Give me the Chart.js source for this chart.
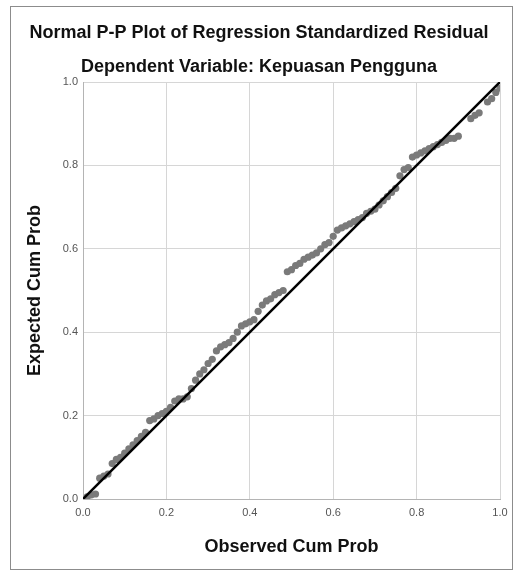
<!DOCTYPE html>
<html>
<head>
<meta charset="utf-8">
<script src="https://cdn.jsdelivr.net/npm/chart.js@4.4.1/dist/chart.umd.min.js"></script>
<style>
  html, body { margin: 0; padding: 0; background: #fff; }
  #wrap { position: relative; width: 518px; height: 571px; }
  #frame {
    position: absolute; left: 10px; top: 6px; width: 501px; height: 562px;
    border: 1px solid #8c8c8c; pointer-events: none;
  }
  canvas { position: absolute; left: 0; top: 0; }
</style>
</head>
<body>
<div id="wrap">
  <canvas id="chart" width="518" height="571"></canvas>
  <div id="frame"></div>
</div>
<script>
// observed vs expected cumulative probability of the standardized residuals
const observedCumProb = [
  0.01, 0.02, 0.03, 0.04, 0.05, 0.06, 0.07, 0.08, 0.09, 0.10,
  0.11, 0.12, 0.13, 0.14, 0.15, 0.16, 0.17, 0.18, 0.19, 0.20,
  0.21, 0.22, 0.23, 0.24, 0.25, 0.26, 0.27, 0.28, 0.29, 0.30,
  0.31, 0.32, 0.33, 0.34, 0.35, 0.36, 0.37, 0.38, 0.39, 0.40,
  0.41, 0.42, 0.43, 0.44, 0.45, 0.46, 0.47, 0.48, 0.49, 0.50,
  0.51, 0.52, 0.53, 0.54, 0.55, 0.56, 0.57, 0.58, 0.59, 0.60,
  0.61, 0.62, 0.63, 0.64, 0.65, 0.66, 0.67, 0.68, 0.69, 0.70,
  0.71, 0.72, 0.73, 0.74, 0.75, 0.76, 0.77, 0.78, 0.79, 0.80,
  0.81, 0.82, 0.83, 0.84, 0.85, 0.86, 0.87, 0.88, 0.89, 0.90,
  0.93, 0.94, 0.95, 0.97, 0.98, 0.99, 1.00
];
const expectedCumProb = [
  0.005, 0.010, 0.012, 0.050, 0.055, 0.060, 0.085, 0.095, 0.100, 0.110,
  0.120, 0.130, 0.140, 0.150, 0.160, 0.188, 0.192, 0.200, 0.205, 0.210,
  0.220, 0.235, 0.240, 0.240, 0.245, 0.265, 0.285, 0.300, 0.310, 0.325,
  0.335, 0.355, 0.365, 0.370, 0.375, 0.385, 0.400, 0.415, 0.420, 0.425,
  0.430, 0.450, 0.465, 0.475, 0.480, 0.490, 0.495, 0.500, 0.545, 0.550,
  0.560, 0.565, 0.575, 0.580, 0.585, 0.590, 0.600, 0.610, 0.615, 0.630,
  0.645, 0.650, 0.655, 0.660, 0.665, 0.670, 0.675, 0.685, 0.690, 0.695,
  0.705, 0.715, 0.725, 0.735, 0.745, 0.775, 0.790, 0.795, 0.820, 0.825,
  0.830, 0.835, 0.840, 0.845, 0.850, 0.855, 0.860, 0.865, 0.865, 0.870,
  0.912, 0.920, 0.926, 0.952, 0.960, 0.975, 0.985
];
// diagonal reference line endpoints
const refLineX = [0, 1];
const refLineY = [0, 1];
const tickValues = [0, 0.2, 0.4, 0.6, 0.8, 1.0];

const points = observedCumProb.map((x, i) => ({ x: x, y: expectedCumProb[i] }));
const refLine = refLineX.map((x, i) => ({ x: x, y: refLineY[i] }));

const fontFamily = '"Liberation Sans", Arial, sans-serif';
const tickFont = { family: fontFamily, size: 11 };
const titleFont = { family: fontFamily, size: 18, weight: 'bold' };

const axisOptions = (label, isX) => ({
  type: 'linear',
  min: 0,
  max: 1,
  afterBuildTicks: (scale) => {
    scale.ticks = tickValues.map(v => ({ value: v }));
  },
  afterFit: (scale) => {
    if (isX) scale.height = 72;
    else scale.width = 65;
  },
  grid: { color: '#d6d6d6', lineWidth: 1, drawTicks: false },
  border: { color: '#b4b4b4', width: 1 },
  ticks: {
    font: tickFont,
    color: '#555',
    padding: isX ? 7 : 5,
    maxRotation: 0,
    callback: (v) => Number(v).toFixed(1)
  },
  title: {
    display: true,
    text: label,
    font: titleFont,
    color: '#111',
    padding: isX ? { top: 0, bottom: 13.2 } : { top: 6.2, bottom: 0 }
  }
});

new Chart(document.getElementById('chart'), {
  type: 'scatter',
  data: {
    datasets: [
      {
        // drawn on top of the points
        data: refLine,
        showLine: true,
        borderColor: '#000',
        borderWidth: 2.5,
        pointRadius: 0,
        fill: false
      },
      {
        data: points,
        backgroundColor: '#7a7a7a',
        borderColor: '#7a7a7a',
        borderWidth: 0,
        pointRadius: 3.6
      }
    ]
  },
  options: {
    responsive: false,
    animation: false,
    layout: { padding: { left: 18, right: 18, top: 0, bottom: 0 } },
    plugins: {
      legend: { display: false },
      tooltip: { enabled: false },
      title: {
        display: true,
        text: 'Normal P-P Plot of Regression Standardized Residual',
        font: titleFont,
        color: '#111',
        padding: { top: 22.2, bottom: 0 }
      },
      subtitle: {
        display: true,
        text: 'Dependent Variable: Kepuasan Pengguna',
        font: titleFont,
        color: '#111',
        padding: { top: 12.4, bottom: 4.2 }
      }
    },
    scales: {
      x: axisOptions('Observed Cum Prob', true),
      y: axisOptions('Expected Cum Prob', false)
    }
  }
});
</script>
</body>
</html>
